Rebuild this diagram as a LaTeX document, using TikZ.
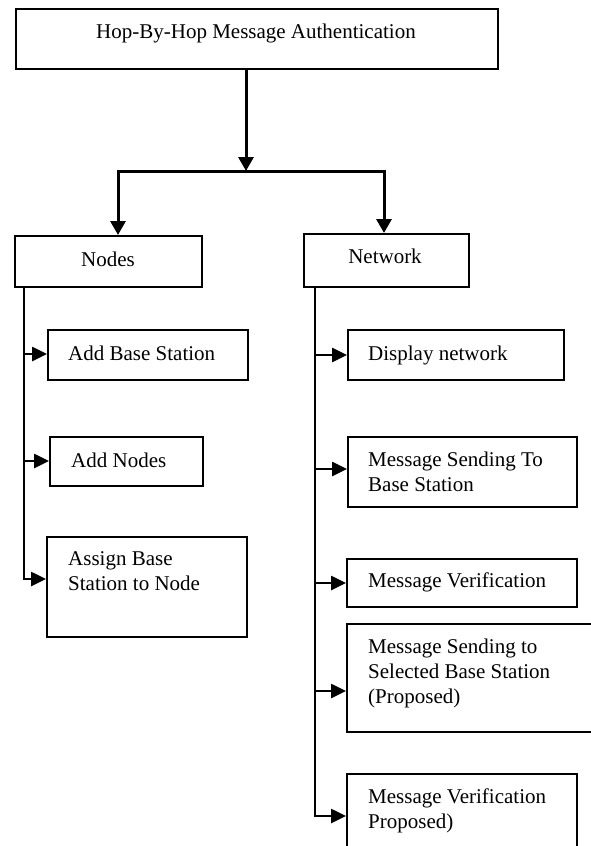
\documentclass[tikz,border=0pt]{standalone}
\usepackage{fontspec}
\setmainfont{Liberation Serif}
\usetikzlibrary{arrows.meta}
\begin{document}
\begin{tikzpicture}[x=1pt,y=-1pt,
  box/.style={draw, line width=2pt, inner sep=0pt, anchor=north west},
  lbl/.style={inner sep=0pt, anchor=base west, font=\fontsize{21}{25}\selectfont},
  clbl/.style={lbl, anchor=base},
  bigarrow/.style={line width=3pt, -{Triangle[length=14pt,width=15pt]}},
  bigboth/.style={line width=3pt, line join=miter, {Triangle[length=14pt,width=15pt]}-{Triangle[length=14pt,width=15pt]}},
  smallarrow/.style={line width=2.6pt, -{Triangle[length=15pt,width=14pt]}},
  trunk/.style={line width=2.2pt, line cap=rect}]
\useasboundingbox (0,0) rectangle (591,846);

% boxes
\node[box, minimum width=482pt, minimum height=60pt] (top) at (15,8) {};
\node[box, minimum width=187pt, minimum height=51pt] (nodes) at (14,235) {};
\node[box, minimum width=165pt, minimum height=53pt] (network) at (303,233) {};
\node[box, minimum width=200pt, minimum height=50pt] (addbs) at (47,329) {};
\node[box, minimum width=153pt, minimum height=49pt] (addnodes) at (49,436) {};
\node[box, minimum width=200pt, minimum height=100pt] (assign) at (46,536) {};
\node[box, minimum width=216pt, minimum height=50pt] (display) at (347,329) {};
\node[box, minimum width=229pt, minimum height=70pt] (msb) at (347,436) {};
\node[box, minimum width=230pt, minimum height=48pt] (mv) at (346,558) {};
\node[box, minimum width=260pt, minimum height=108pt] (mss) at (346,623) {};
\node[box, minimum width=230pt, minimum height=95pt] (mvp) at (346,773) {};

% texts
\node[clbl] (ttop) at (256,38) {Hop-By-Hop Message Authentication};
\node[clbl] (tnodes) at (108,266) {Nodes};
\node[clbl] (tnetwork) at (385,263) {Network};
\node[lbl] (taddbs) at (68,360) {Add Base Station};
\node[lbl] (taddnodes) at (71,467) {Add Nodes};
\node[lbl] (tassign1) at (68,565) {Assign Base};
\node[lbl] (tassign2) at (68,590) {Station to Node};
\node[lbl] (tdisplay) at (368,360) {Display network};
\node[lbl] (tmsb1) at (368,466) {Message Sending To};
\node[lbl] (tmsb2) at (368,491) {Base Station};
\node[lbl] (tmv) at (368,587) {Message Verification};
\node[lbl] (tmss1) at (368,653) {Message Sending to};
\node[lbl] (tmss2) at (368,678) {Selected Base Station};
\node[lbl] (tmss3) at (368,703) {(Proposed)};
\node[lbl] (tmvp1) at (368,803) {Message Verification};
\node[lbl] (tmvp2) at (368,828) {Proposed)};

% top connectors
\coordinate (j) at (246,171);
\coordinate (jl) at (118,171);
\coordinate (jr) at (384,171);
\draw[bigarrow] (j |- top.south) -- (j);
\draw[bigboth] (jl |- nodes.north) -- (jl) -- (jr) -- (jr |- network.north);

% left trunk
\coordinate (la1) at (24,354);
\coordinate (la2) at (24,461);
\coordinate (la3) at (24,579);
\draw[trunk] (la1 |- nodes.south) -- (la3);
\draw[smallarrow] (la1) -- (la1 -| addbs.west);
\draw[smallarrow] (la2) -- (la2 -| addnodes.west);
\draw[smallarrow] (la3) -- (la3 -| assign.west);

% right trunk
\coordinate (ra1) at (315,355);
\coordinate (ra2) at (315,469);
\coordinate (ra3) at (315,583);
\coordinate (ra4) at (315,691);
\coordinate (ra5) at (315,816);
\draw[trunk] (ra1 |- network.south) -- (ra5);
\draw[smallarrow] (ra1) -- (ra1 -| display.west);
\draw[smallarrow] (ra2) -- (ra2 -| msb.west);
\draw[smallarrow] (ra3) -- (ra3 -| mv.west);
\draw[smallarrow] (ra4) -- (ra4 -| mss.west);
\draw[smallarrow] (ra5) -- (ra5 -| mvp.west);
\end{tikzpicture}
\end{document}
